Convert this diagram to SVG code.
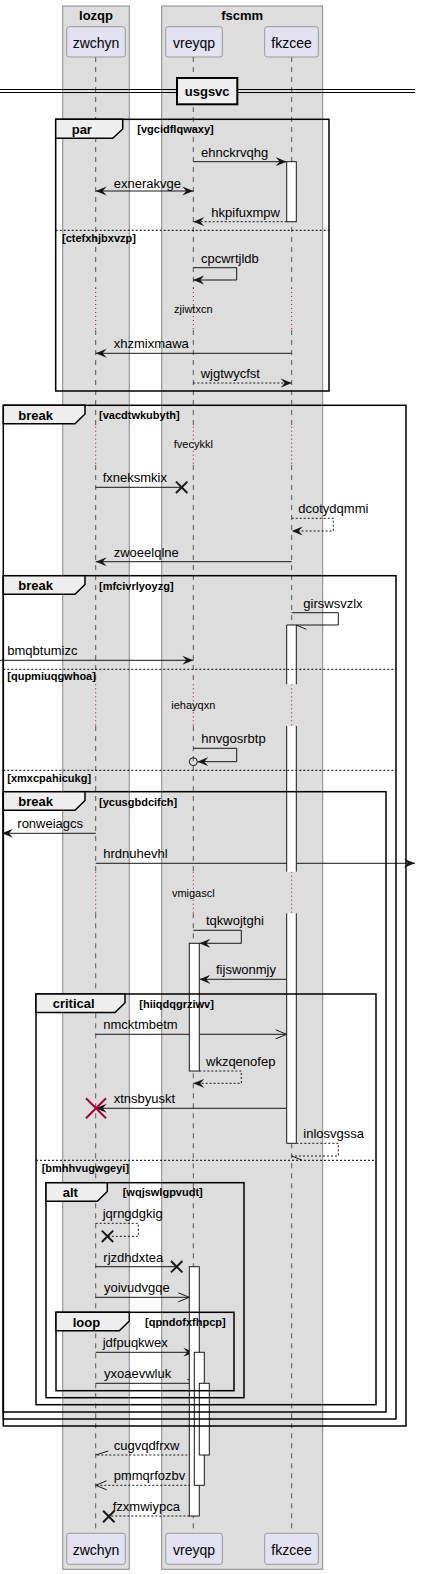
<svg xmlns="http://www.w3.org/2000/svg" width="421" height="1574" viewBox="0 0 421 1574">
<defs>
<style>
text{font-family:"Liberation Sans",Arial,sans-serif;fill:#000}
.msg{font-size:13px}
.pt{font-size:14px;text-anchor:middle}
.bt{font-size:13px;font-weight:bold}
.cond{font-size:11px;font-weight:bold}
.dl{font-size:11px;text-anchor:middle}
.box{fill:#DDDDDD;stroke:#888;stroke-width:1}
.part{fill:#E2E2F0;stroke:#999;stroke-width:1}
.life{stroke:#555;stroke-width:1;stroke-dasharray:5,5;fill:none}
.delay{stroke:#A80036;stroke-width:1;stroke-dasharray:1,3;fill:none}
.ln{stroke:#181818;stroke-width:1;fill:none}
.dash{stroke-dasharray:2,2}
.act{fill:#fff;stroke:#181818;stroke-width:1}
.actf{fill:#fff;stroke:none}
.frame{fill:none;stroke:#000;stroke-width:1.5}
.tab{fill:#EEEEEE;stroke:#000;stroke-width:1.5}
.sep{stroke:#000;stroke-width:1;stroke-dasharray:2,2}
.x{stroke:#181818;stroke-width:2}
.xr{stroke:#A80036;stroke-width:2}
</style>
<marker id="fa" markerUnits="userSpaceOnUse" markerWidth="12" markerHeight="10" viewBox="0 0 12 10" refX="11" refY="5" orient="auto-start-reverse">
<path d="M0,0.5 L11,5 L0,9.5 L4,5 Z" fill="#181818" stroke="none"/>
</marker>
<marker id="oa" markerUnits="userSpaceOnUse" markerWidth="14" markerHeight="12" viewBox="-1 -1 14 12" refX="11" refY="5" orient="auto">
<path d="M0,0.5 L11,5 L0,9.5" fill="none" stroke="#181818" stroke-width="1"/>
</marker>
</defs>

<g id="boxes">
<rect class="box" x="62.7" y="6" width="66.6" height="1563.3"/>
<text class="bt" x="96" y="19.5" text-anchor="middle">lozqp</text>
<rect class="box" x="161.7" y="6" width="161" height="1563.3"/>
<text class="bt" x="242.2" y="19.5" text-anchor="middle">fscmm</text>
</g>

<g id="lifelines">
<path class="life" d="M95.7,57 V288 M95.7,330 V426.7 M95.7,465 V684.3 M95.7,726 V871.7 M95.7,913.3 V1533.3"/>
<path class="life" d="M193.3,57 V288 M193.3,330 V426.7 M193.3,465 V684.3 M193.3,726 V871.7 M193.3,913.3 V1533.3"/>
<path class="life" d="M291.7,57 V288 M291.7,330 V426.7 M291.7,465 V684.3 M291.7,726 V871.7 M291.7,913.3 V1533.3"/>
<path class="delay" d="M95.7,288 V330 M193.3,288 V330 M291.7,288 V330 M95.7,426.7 V465 M193.3,426.7 V465 M291.7,426.7 V465 M95.7,684.3 V726 M193.3,684.3 V726 M291.7,684.3 V726 M95.7,871.7 V913.3 M193.3,871.7 V913.3 M291.7,871.7 V913.3"/>
</g>

<g id="zwchyn">
<rect class="part" x="66.7" y="26.7" width="58.6" height="30.3" rx="2.5"/>
<text class="pt" x="96" y="48">zwchyn</text>
<rect class="part" x="66.7" y="1533.3" width="58.6" height="31" rx="2.5"/>
<text class="pt" x="96" y="1554.5">zwchyn</text>
</g>
<g id="vreyqp">
<rect class="part" x="165.7" y="26.7" width="56.6" height="30.3" rx="2.5"/>
<text class="pt" x="194" y="48">vreyqp</text>
<rect class="part" x="165.7" y="1533.3" width="56.6" height="31" rx="2.5"/>
<text class="pt" x="194" y="1554.5">vreyqp</text>
</g>
<g id="fkzcee">
<rect class="part" x="264.7" y="26.7" width="53.6" height="30.3" rx="2.5"/>
<text class="pt" x="291.5" y="48">fkzcee</text>
<rect class="part" x="264.7" y="1533.3" width="53.6" height="31" rx="2.5"/>
<text class="pt" x="291.5" y="1554.5">fkzcee</text>
</g>

<g id="divider">
<path d="M0,89.5 H415 M0,92.5 H415" stroke="#000" stroke-width="1" fill="none"/>
<rect x="177" y="78" width="60.3" height="26.3" fill="#EEEEEE" stroke="#000" stroke-width="2"/>
<text class="bt" x="207.2" y="95.5" text-anchor="middle">usgsvc</text>
</g>

<g id="connectors">
<path class="ln" d="M193.3,161.7 H286.7" marker-end="url(#fa)"/>
<path class="ln" d="M95.7,191 H193.3" marker-start="url(#fa)" marker-end="url(#fa)"/>
<path class="ln dash" d="M286.7,221.7 H193.3" marker-end="url(#fa)"/>
<path class="ln" d="M193.3,267.7 H236.7 V280 H193.3" marker-end="url(#fa)"/>
<path class="ln" d="M291.7,353.3 H95.7" marker-end="url(#fa)"/>
<path class="ln dash" d="M193.3,383 H291.7" marker-end="url(#fa)"/>
<path class="ln" d="M95.7,487.3 H181.7"/>
<path class="x" d="M176,481.6 L187.4,493 M187.4,481.6 L176,493"/>
<path class="ln dash" d="M291.7,518.3 H333.3 V531 H291.7" marker-end="url(#fa)"/>
<path class="ln" d="M291.7,561.7 H95.7" marker-end="url(#fa)"/>
<path class="ln" d="M291.7,612.7 H338.3 V625 H296.3 M296.3,625 L306.3,629.3"/>
<path class="ln" d="M0,660.3 H193.3" marker-end="url(#fa)"/>
<path class="ln" d="M193.3,748.3 H236.7 V761.7 H197.3" marker-end="url(#fa)"/>
<circle cx="193.3" cy="761.7" r="4" fill="none" stroke="#181818" stroke-width="1"/>
<path class="ln" d="M95.7,833.3 H2" marker-end="url(#fa)"/>
<path class="ln" d="M95.7,863.3 H415" marker-end="url(#fa)"/>
<path class="ln" d="M193.3,930.3 H241.3 V943.3 H199.3" marker-end="url(#fa)"/>
<path class="ln" d="M286.7,979.3 H199.3" marker-end="url(#fa)"/>
<path class="ln" d="M95.7,1034.3 H286.7" marker-end="url(#oa)"/>
<path class="ln dash" d="M199.3,1071 H241.3 V1083.3 H193.3" marker-end="url(#fa)"/>
<path class="ln" d="M286.7,1108.3 H95.7" marker-end="url(#fa)"/>
<path class="xr" d="M86,1098.3 L106,1118.3 M106,1098.3 L86,1118.3"/>
<path class="ln dash" d="M296.3,1143.3 H338.3 V1156 H291.7"/>
<path class="ln" d="M291.7,1156 L301.7,1160"/>
<path class="ln dash" d="M95.7,1223.3 H138.3 V1236.3 H107.5"/>
<path class="x" d="M101.8,1230.6 L113.2,1242 M113.2,1230.6 L101.8,1242"/>
<path class="ln" d="M95.7,1266.7 H176.7"/>
<path class="x" d="M171,1261 L182.4,1272.4 M182.4,1261 L171,1272.4"/>
<path class="ln" d="M95.7,1297.3 H189.3" marker-end="url(#oa)"/>
<path class="ln" d="M95.7,1352.3 H194.3" marker-end="url(#fa)"/>
<path class="ln" d="M95.7,1383.3 H199.3 M187.3,1379.3 L199.3,1383.3"/>
<path class="ln dash" d="M199.3,1455 H95.7"/>
<path class="ln" d="M95.7,1455 L108.3,1451"/>
<path class="ln dash" d="M194.3,1485.3 H95.7" marker-end="url(#oa)"/>
<path class="ln dash" d="M189.3,1516 H108.8"/>
<path class="x" d="M103.1,1510.8 L114.5,1522.2 M114.5,1510.8 L103.1,1522.2"/>
</g>

<g id="activations">
<rect class="act" x="286.7" y="161.7" width="9.6" height="60"/>
<rect class="actf" x="286.7" y="625" width="9.6" height="59.3"/>
<path class="ln" d="M286.7,684.3 V625 H296.3 V684.3"/>
<rect class="actf" x="286.7" y="726" width="9.6" height="145.7"/>
<path class="ln" d="M286.7,726 V871.7 M296.3,726 V871.7"/>
<rect class="actf" x="286.7" y="913.3" width="9.6" height="230"/>
<path class="ln" d="M286.7,913.3 V1143.3 H296.3 V913.3"/>
<rect class="act" x="189.3" y="943.3" width="10" height="127.7"/>
<rect class="act" x="189.3" y="1266.7" width="10" height="249.3"/>
<rect class="act" x="194.3" y="1352.3" width="10" height="133"/>
<rect class="act" x="199.3" y="1383.3" width="10" height="71.7"/>
</g>

<g id="frames">
<rect class="frame" x="55.7" y="119.3" width="273.3" height="271.7"/>
<path class="tab" d="M55.7,119.3 H122.7 V129 L112.7,138.3 H55.7 Z"/>
<path class="sep" d="M55.7,230.3 H329"/>
<rect class="frame" x="3.3" y="405.3" width="402.7" height="1020.7"/>
<path class="tab" d="M3.3,405.3 H85 V414 L75,423.8 H3.3 Z"/>
<rect class="frame" x="3.3" y="575.7" width="392.7" height="843.3"/>
<path class="tab" d="M3.3,575.7 H85 V584.5 L75,594.3 H3.3 Z"/>
<path class="sep" d="M3.3,669.3 H396 M3.3,770.3 H396"/>
<rect class="frame" x="3.3" y="791.7" width="382.7" height="620.3"/>
<path class="tab" d="M3.3,791.7 H85 V800.5 L75,810.3 H3.3 Z"/>
<rect class="frame" x="36" y="994" width="340" height="410.7"/>
<path class="tab" d="M36,994 H125 V1002.8 L115,1012.5 H36 Z"/>
<path class="sep" d="M36,1160.3 H376"/>
<rect class="frame" x="46" y="1182.7" width="198" height="215"/>
<path class="tab" d="M46,1182.7 H107.3 V1191.5 L97.3,1201.2 H46 Z"/>
<rect class="frame" x="56" y="1312.3" width="178" height="78.4"/>
<path class="tab" d="M56,1312.3 H129.3 V1321 L119.3,1330.8 H56 Z"/>
</g>

<g id="labels">
<text class="bt" x="71.7" y="133.5">par</text>
<text class="cond" x="137.3" y="133">[vgcidflqwaxy]</text>
<text class="cond" x="62" y="241.5">[ctefxhjbxvzp]</text>
<text class="bt" x="18.3" y="419.5">break</text>
<text class="cond" x="99" y="419">[vacdtwkubyth]</text>
<text class="bt" x="18.3" y="590">break</text>
<text class="cond" x="99" y="589.5">[mfcivrlyoyzg]</text>
<text class="cond" x="7.3" y="680.3">[qupmiuqgwhoa]</text>
<text class="cond" x="7.3" y="781.5">[xmxcpahicukg]</text>
<text class="bt" x="18.3" y="806">break</text>
<text class="cond" x="99" y="805.5">[ycusgbdcifch]</text>
<text class="bt" x="52.7" y="1008.3">critical</text>
<text class="cond" x="139.3" y="1008">[hiiqdqgrziwv]</text>
<text class="cond" x="41.7" y="1171.5">[bmhhvugwgeyi]</text>
<text class="bt" x="62.7" y="1196.5">alt</text>
<text class="cond" x="122.7" y="1196">[wqjswlgpvudt]</text>
<text class="bt" x="72.7" y="1326.5">loop</text>
<text class="cond" x="145" y="1326">[qpndofxfhpcp]</text>

<text class="dl" x="193.3" y="313.3">zjiwtxcn</text>
<text class="dl" x="193.3" y="448.3">fvecykkl</text>
<text class="dl" x="193.3" y="709.3">iehayqxn</text>
<text class="dl" x="193.3" y="896.7">vmigascl</text>

<text class="msg" x="201" y="156.7">ehnckrvqhg</text>
<text class="msg" x="113.7" y="188.3">exnerakvge</text>
<text class="msg" x="211.3" y="216.7">hkpifuxmpw</text>
<text class="msg" x="201" y="262.7">cpcwrtjldb</text>
<text class="msg" x="113.7" y="348.3">xhzmixmawa</text>
<text class="msg" x="200.7" y="378">wjgtwycfst</text>
<text class="msg" x="102.7" y="482.3">fxneksmkix</text>
<text class="msg" x="298.3" y="513.3">dcotydqmmi</text>
<text class="msg" x="113.7" y="556.7">zwoeelqlne</text>
<text class="msg" x="303.3" y="607.7">girswsvzlx</text>
<text class="msg" x="7.3" y="655.3">bmqbtumizc</text>
<text class="msg" x="201.3" y="743.3">hnvgosrbtp</text>
<text class="msg" x="17.3" y="828.3">ronweiagcs</text>
<text class="msg" x="103.3" y="858.3">hrdnuhevhl</text>
<text class="msg" x="206" y="925.3">tqkwojtghi</text>
<text class="msg" x="216" y="974.3">fijswonmjy</text>
<text class="msg" x="103.3" y="1029.3">nmcktmbetm</text>
<text class="msg" x="206" y="1066">wkzqenofep</text>
<text class="msg" x="113.7" y="1103.3">xtnsbyuskt</text>
<text class="msg" x="303.3" y="1138.3">inlosvgssa</text>
<text class="msg" x="102.7" y="1218.3">jqrngdgkig</text>
<text class="msg" x="103.3" y="1261.7">rjzdhdxtea</text>
<text class="msg" x="104" y="1292.3">yoivudvgqe</text>
<text class="msg" x="102.7" y="1347.3">jdfpuqkwex</text>
<text class="msg" x="104" y="1378.3">yxoaevwluk</text>
<text class="msg" x="113.7" y="1450">cugvqdfrxw</text>
<text class="msg" x="113.7" y="1480.3">pmmqrfozbv</text>
<text class="msg" x="112.7" y="1511">fzxmwiypca</text>
</g>
</svg>
